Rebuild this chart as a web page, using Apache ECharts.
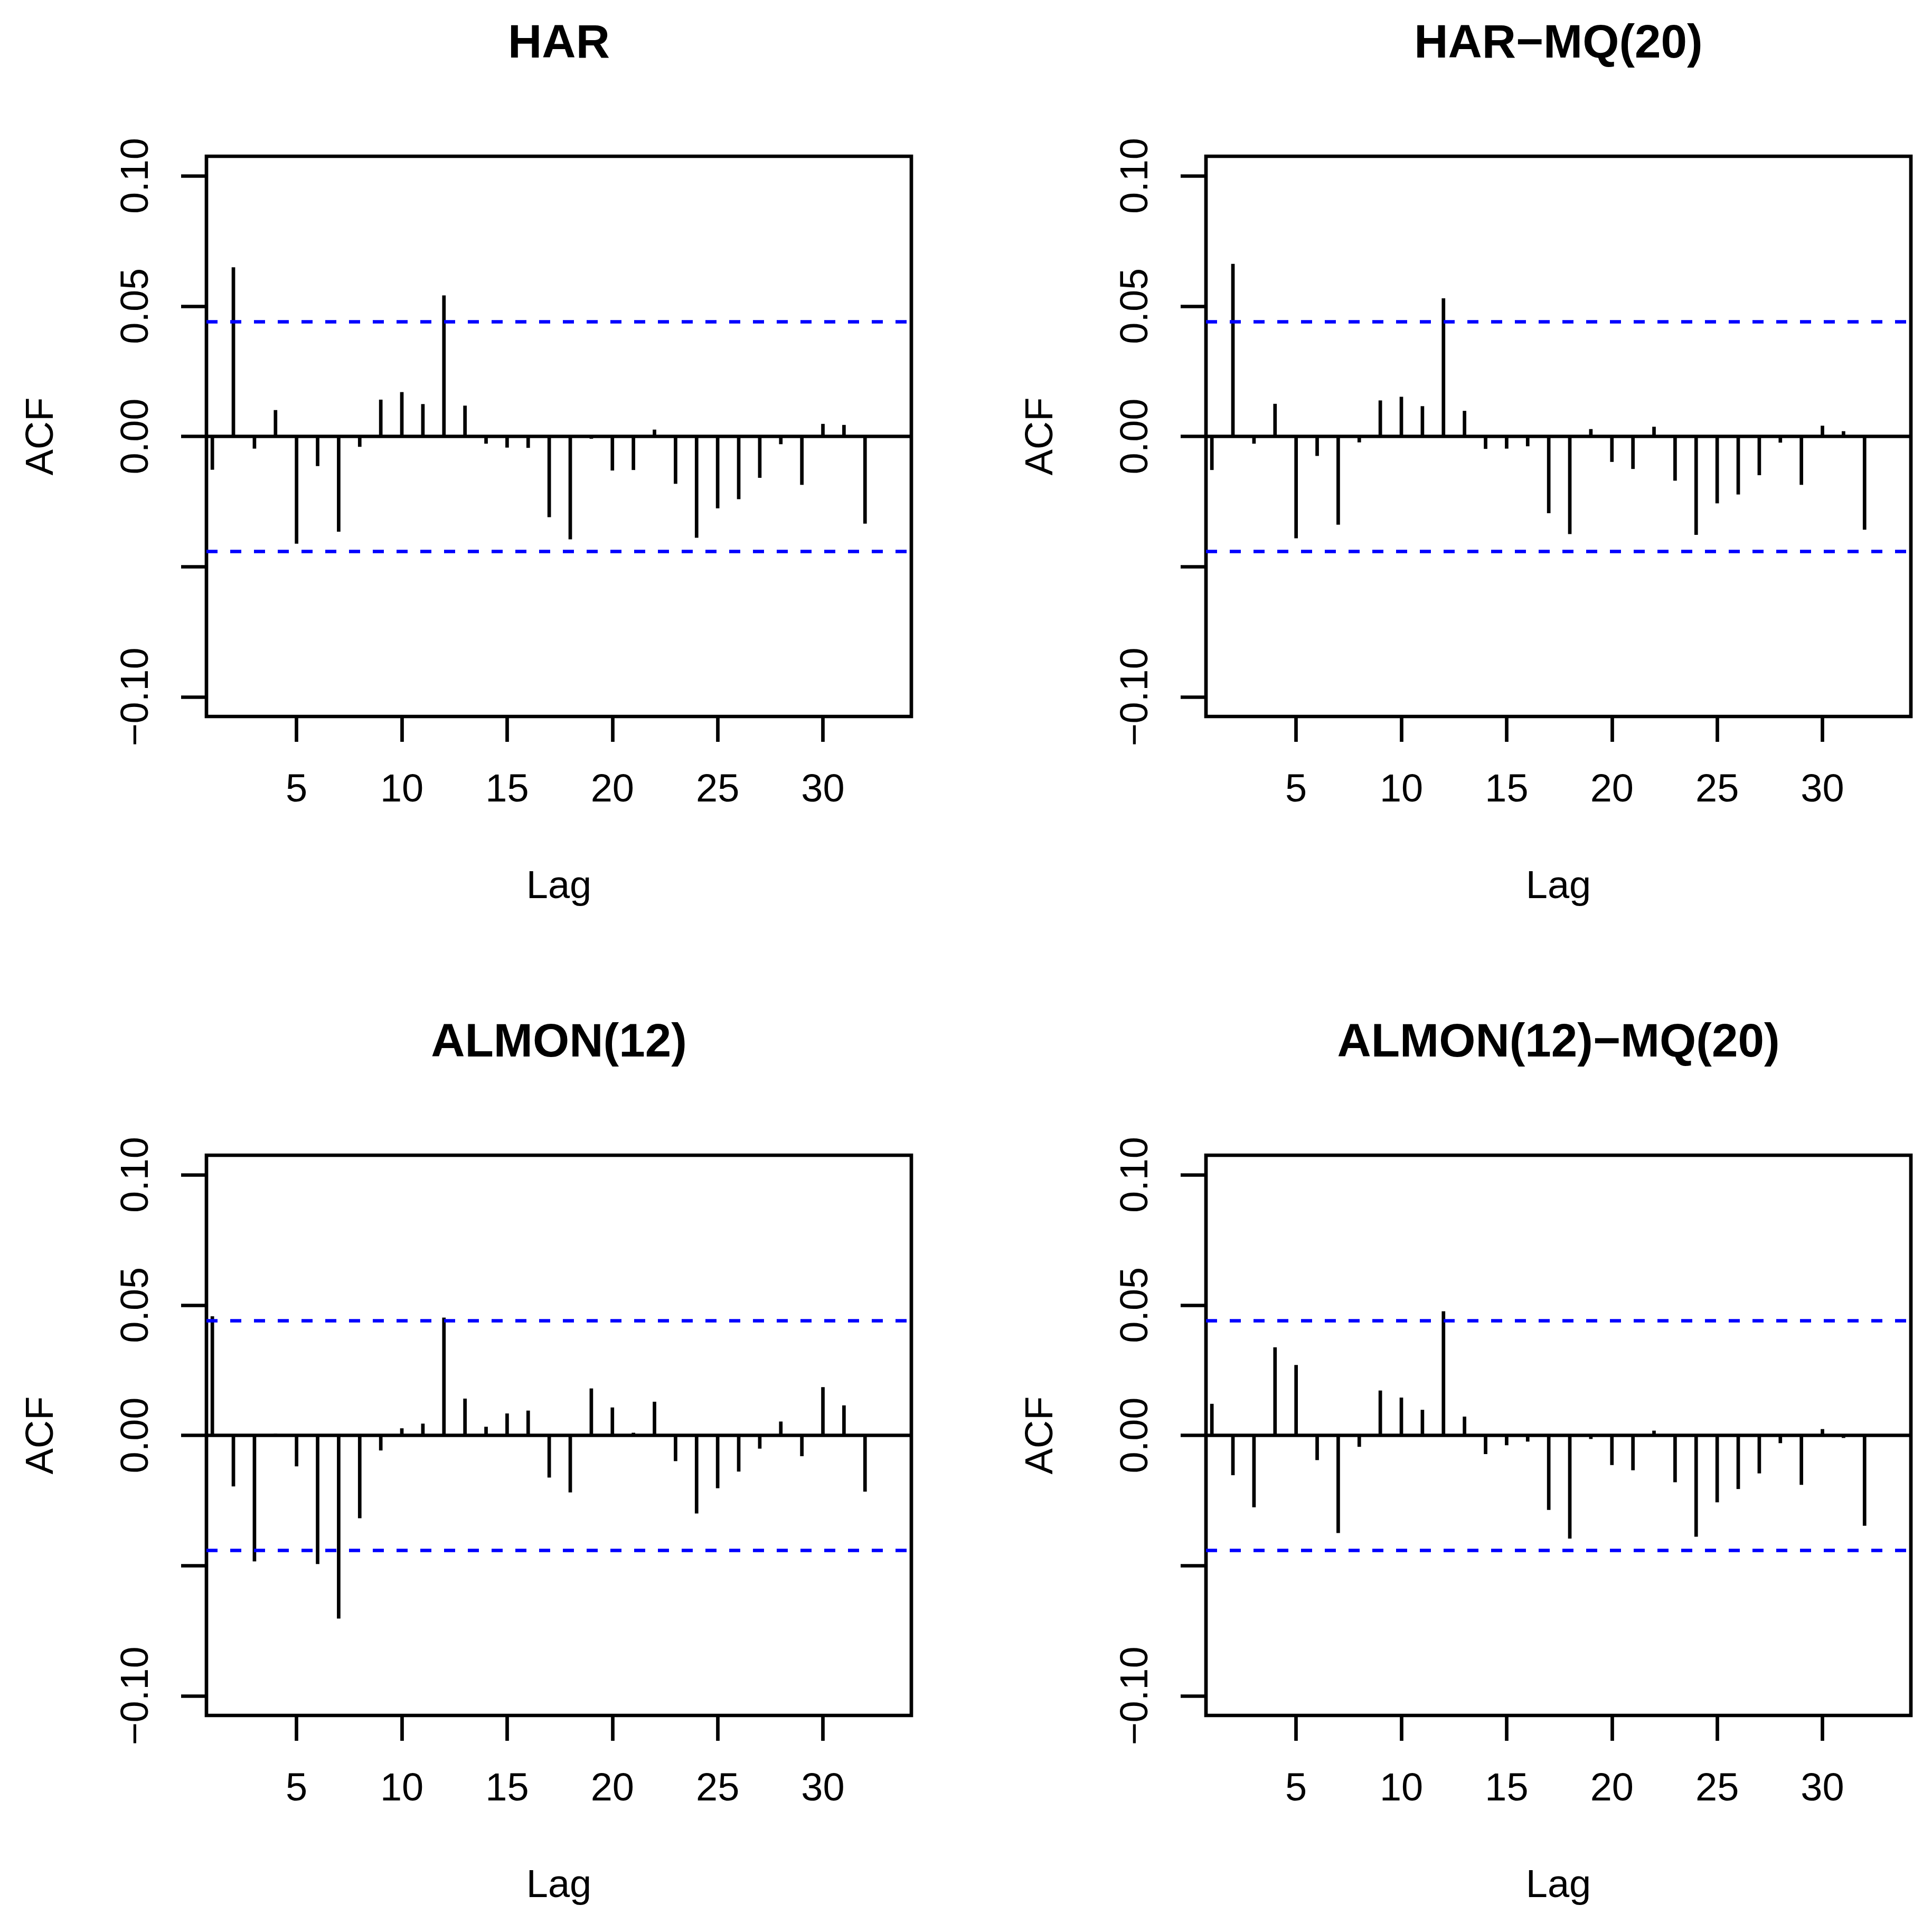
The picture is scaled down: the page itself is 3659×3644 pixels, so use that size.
<!DOCTYPE html>
<html><head><meta charset="utf-8">
<script src="https://cdn.jsdelivr.net/npm/echarts@6/dist/echarts.min.js"></script>
<style>html,body{margin:0;padding:0;background:#fff}#c{width:3659px;height:3644px}</style>
</head><body><div id="c"></div>
<script>
// ---- data ----
const lags = [1,2,3,4,5,6,7,8,9,10,11,12,13,14,15,16,17,18,19,20,21,22,23,24,25,26,27,28,29,30,31,32];
const titles = ['HAR', 'HAR\u2212MQ(20)', 'ALMON(12)', 'ALMON(12)\u2212MQ(20)'];
const acfHAR = [-0.0128,0.0649,-0.0047,0.0101,-0.0412,-0.0114,-0.0366,-0.0040,0.0141,0.0170,0.0124,0.0541,0.0118,-0.0028,-0.0043,-0.0044,-0.0310,-0.0395,-0.0009,-0.0131,-0.0129,0.0026,-0.0182,-0.0389,-0.0276,-0.0241,-0.0159,-0.0030,-0.0186,0.0048,0.0044,-0.0335];
const acfHARMQ = [-0.0129,0.0662,-0.0028,0.0125,-0.0391,-0.0075,-0.0339,-0.0023,0.0138,0.0152,0.0116,0.0530,0.0098,-0.0048,-0.0047,-0.0038,-0.0295,-0.0375,0.0028,-0.0098,-0.0125,0.0037,-0.0170,-0.0378,-0.0257,-0.0223,-0.0149,-0.0024,-0.0186,0.0041,0.0020,-0.0358];
const acfALMON = [0.0457,-0.0196,-0.0484,0.0006,-0.0119,-0.0494,-0.0703,-0.0318,-0.0058,0.0027,0.0045,0.0452,0.0141,0.0033,0.0084,0.0095,-0.0162,-0.0219,0.0180,0.0107,0.0010,0.0129,-0.0099,-0.0300,-0.0203,-0.0139,-0.0051,0.0053,-0.0080,0.0185,0.0115,-0.0216];
const acfALMONMQ = [0.0121,-0.0153,-0.0276,0.0338,0.0270,-0.0095,-0.0375,-0.0044,0.0172,0.0145,0.0098,0.0476,0.0072,-0.0072,-0.0038,-0.0024,-0.0286,-0.0396,-0.0014,-0.0114,-0.0134,0.0018,-0.0180,-0.0389,-0.0257,-0.0206,-0.0146,-0.0030,-0.0190,0.0024,-0.0010,-0.0347];
const ciBounds = [0.0441, 0.0441, 0.0441, 0.0441];
const yTicks = [-0.10, -0.05, 0.00, 0.05, 0.10];
const yTickLabels = [-0.10, 0.00, 0.05, 0.10];
const xTicks = [5, 10, 15, 20, 25, 30];
const panels = [acfHAR, acfHARMQ, acfALMON, acfALMONMQ];

// ---- layout / style ----
const FONT = '"Liberation Sans", Arial, Helvetica, sans-serif';
const LW = 6.7;
const lefts = [391, 2284], tops = [296, 2188];
const GW = 1335, GH = 1061;
const fmt = v => (v < -1e-9 ? '\u2212' : '') + Math.abs(v).toFixed(2);

const grid = [], xAxis = [], yAxis = [], series = [], graphic = [];
panels.forEach((vals, i) => {
  const col = i % 2, row = Math.floor(i / 2);
  grid.push({left: lefts[col], top: tops[row], width: GW, height: GH, show: true,
    borderColor: '#000', borderWidth: LW, backgroundColor: 'transparent', outerBoundsMode: 'none', containLabel: false});
  xAxis.push({type: 'value', gridIndex: i, min: 0.72, max: 34.2, position: 'bottom',
    name: 'Lag', nameLocation: 'middle', nameGap: 287,
    nameTextStyle: {fontFamily: FONT, fontSize: 74, color: '#000'},
    axisLine: {show: false, onZero: false}, splitLine: {show: false},
    axisTick: {show: true, inside: false, length: 48, customValues: xTicks, lineStyle: {color: '#000', width: LW}},
    axisLabel: {show: true, customValues: xTicks, margin: 104, fontFamily: FONT, fontSize: 74, color: '#000'}});
  yAxis.push({type: 'value', gridIndex: i, min: -0.1075, max: 0.1075, position: 'left',
    name: 'ACF', nameLocation: 'middle', nameGap: 274, nameRotate: 90,
    nameTextStyle: {fontFamily: FONT, fontSize: 74, color: '#000'},
    axisLine: {show: false, onZero: false}, splitLine: {show: false},
    axisTick: {show: true, inside: false, length: 48, customValues: yTicks, lineStyle: {color: '#000', width: LW}},
    axisLabel: {show: true, customValues: yTickLabels, rotate: 90, margin: 94, fontFamily: FONT, fontSize: 74, color: '#000', formatter: fmt}});
  series.push({type: 'bar', xAxisIndex: i, yAxisIndex: i, barWidth: LW,
    data: lags.map((l, k) => [l, vals[k]]),
    itemStyle: {color: '#000'}, silent: true,
    markLine: {silent: true, symbol: 'none', animation: false, precision: 6, label: {show: false},
      data: [
        {yAxis: 0, lineStyle: {color: '#000', width: LW, type: 'solid'}},
        {yAxis: ciBounds[i], lineStyle: {color: '#0000FF', width: LW, type: [21, 24]}},
        {yAxis: -ciBounds[i], lineStyle: {color: '#0000FF', width: LW, type: [21, 24]}}
      ]}});
  graphic.push({type: 'text', x: lefts[col] + GW / 2, y: (row === 0 ? 84.5 : 1976.5),
    style: {text: titles[i], font: 'bold 89px ' + FONT, fill: '#000',
      align: 'center', verticalAlign: 'middle', textAlign: 'center', textVerticalAlign: 'middle'}});
});

const chart = echarts.init(document.getElementById('c'), null, {renderer: 'canvas'});
chart.setOption({animation: false, backgroundColor: '#fff', grid, xAxis, yAxis, series, graphic});
</script></body></html>
